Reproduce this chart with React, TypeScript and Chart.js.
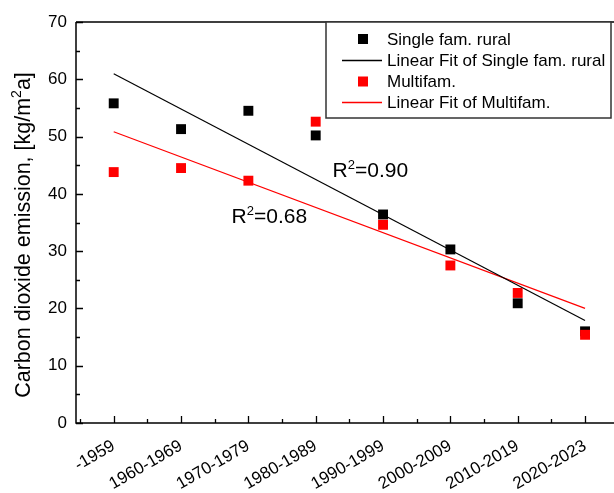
import React, { useEffect, useRef } from 'react';
import { Chart, registerables } from 'chart.js';

Chart.register(...registerables);

const categories = ['-1959', '1960-1969', '1970-1979', '1980-1989', '1990-1999', '2000-2009', '2010-2019', '2020-2023'];
const singleFamRural = [55.8, 51.3, 54.5, 50.2, 36.4, 30.3, 20.9, 16.0];
const multifam = [43.8, 44.5, 42.3, 52.6, 34.6, 27.5, 22.7, 15.4];
const seriesNames = ['Single fam. rural', 'Linear Fit of Single fam. rural', 'Multifam.', 'Linear Fit of Multifam.'];
const r2Values = ['0.90', '0.68'];
const r2Anchors = [{ x: 3.25, y: 43 }, { x: 1.75, y: 35 }];
const yTicks = [0, 10, 20, 30, 40, 50, 60, 70];
const yTitleParts = ['Carbon dioxide emission, [kg/m', '2', 'a]'];

const FONT = "'Liberation Sans', Arial, sans-serif";
const RED = '#ff0000';

function linearFit(ys: number[]) {
  const n = ys.length;
  const mx = (n - 1) / 2;
  const my = ys.reduce((a, b) => a + b, 0) / n;
  let sxy = 0, sxx = 0;
  ys.forEach((v, i) => { sxy += (i - mx) * (v - my); sxx += (i - mx) * (i - mx); });
  const slope = sxy / sxx;
  const b = my - slope * mx;
  return [{ x: 0, y: b }, { x: n - 1, y: b + slope * (n - 1) }];
}

function drawSup(ctx: any, parts: string[], x: number, y: number, size: number, supSize: number, supRise: number) {
  let cx = x;
  parts.forEach((p, i) => {
    const sup = i === 1;
    ctx.font = `${sup ? supSize : size}px ${FONT}`;
    ctx.fillText(p, cx, sup ? y - supRise : y);
    cx += ctx.measureText(p).width;
  });
  return cx - x;
}

function measureSup(ctx: any, parts: string[], size: number, supSize: number) {
  let w = 0;
  parts.forEach((p, i) => {
    ctx.font = `${i === 1 ? supSize : size}px ${FONT}`;
    w += ctx.measureText(p).width;
  });
  return w;
}

const framePlugin = {
  id: 'frame',
  afterDatasetsDraw(chart: any) {
    const { ctx, chartArea: ca, scales } = chart;
    const x = scales.x, y = scales.y;
    ctx.save();
    ctx.strokeStyle = '#000';
    ctx.lineWidth = 1.5;
    ctx.beginPath();
    ctx.moveTo(ca.left, ca.top); ctx.lineTo(ca.right, ca.top);
    ctx.moveTo(ca.left, ca.top); ctx.lineTo(ca.left, ca.bottom); ctx.lineTo(ca.right, ca.bottom);
    ctx.stroke();

    ctx.lineWidth = 1.3;
    ctx.beginPath();
    for (let i = 0; i < categories.length; i++) {
      const px = Math.round(x.getPixelForValue(i)) + 0.5;
      ctx.moveTo(px, ca.bottom); ctx.lineTo(px, ca.bottom - 7);
    }
    for (let v = -0.5; v <= x.max; v += 1) {
      if (v < x.min) continue;
      const px = Math.round(x.getPixelForValue(v)) + 0.5;
      ctx.moveTo(px, ca.bottom); ctx.lineTo(px, ca.bottom - 4);
    }
    yTicks.forEach((t) => {
      const py = Math.round(y.getPixelForValue(t)) + 0.5;
      ctx.moveTo(ca.left, py); ctx.lineTo(ca.left + 7, py);
      if (t + 5 < y.max) {
        const pm = Math.round(y.getPixelForValue(t + 5)) + 0.5;
        ctx.moveTo(ca.left, pm); ctx.lineTo(ca.left + 4, pm);
      }
    });
    ctx.stroke();

    // R² annotations
    ctx.fillStyle = '#000';
    ctx.textBaseline = 'alphabetic';
    ctx.textAlign = 'left';
    r2Values.forEach((val, i) => {
      const px = x.getPixelForValue(r2Anchors[i].x);
      const py = y.getPixelForValue(r2Anchors[i].y);
      drawSup(ctx, ['R', '2', '=' + val], px, py, 21, 13, 8);
    });

    // Y axis title
    ctx.save();
    ctx.translate(24, 235);
    ctx.rotate(-Math.PI / 2);
    ctx.textBaseline = 'middle';
    const tw = measureSup(ctx, yTitleParts, 21.5, 14);
    drawSup(ctx, yTitleParts, -tw / 2, 0, 21.5, 14, 7);
    ctx.restore();

    // Legend
    const lx = ca.right - 288;
    const ly = ca.top;
    const lw = 285;
    const lh = 96;
    ctx.fillStyle = '#fff';
    ctx.fillRect(lx, ly, lw, lh);
    ctx.strokeStyle = '#333';
    ctx.lineWidth = 1.5;
    ctx.strokeRect(lx, ly, lw, lh);
    const rows = [17, 38.5, 59.5, 80.5];
    const colors = ['#000', '#000', RED, RED];
    ctx.font = `17px ${FONT}`;
    ctx.textBaseline = 'middle';
    seriesNames.forEach((name, i) => {
      const ry = ly + rows[i];
      if (i % 2 === 0) {
        ctx.fillStyle = colors[i];
        ctx.fillRect(lx + 32, ry - 5, 10, 10);
      } else {
        ctx.strokeStyle = colors[i];
        ctx.lineWidth = 1.3;
        ctx.beginPath();
        ctx.moveTo(lx + 16, ry); ctx.lineTo(lx + 56, ry);
        ctx.stroke();
      }
      ctx.fillStyle = '#000';
      ctx.fillText(name, lx + 61, ry + 1);
    });
    ctx.restore();
  },
};

export default function App() {
  const ref = useRef<HTMLCanvasElement | null>(null);
  useEffect(() => {
    document.body.style.margin = '0';
    const canvas = ref.current;
    if (!canvas) return;
    const pts = (arr: number[]) => arr.map((v, i) => ({ x: i, y: v }));
    const chart = new Chart(canvas, {
      type: 'scatter',
      data: {
        datasets: [
          {
            label: seriesNames[2], data: pts(multifam), backgroundColor: RED, borderWidth: 0,
            pointStyle: 'rect', pointRadius: 7, order: 0,
          },
          {
            label: seriesNames[0], data: pts(singleFamRural), backgroundColor: '#000', borderWidth: 0,
            pointStyle: 'rect', pointRadius: 7, order: 1,
          },
          {
            label: seriesNames[1], data: linearFit(singleFamRural), showLine: true, borderColor: '#000',
            borderWidth: 1.2, pointRadius: 0, order: 2,
          } as any,
          {
            label: seriesNames[3], data: linearFit(multifam), showLine: true, borderColor: RED,
            borderWidth: 1.2, pointRadius: 0, order: 3,
          } as any,
        ],
      },
      plugins: [framePlugin],
      options: {
        animation: false,
        responsive: false,
        devicePixelRatio: 1,
        layout: { autoPadding: false, padding: { top: 22, right: 0, left: 0, bottom: 0 } },
        plugins: { legend: { display: false }, tooltip: { enabled: false } },
        scales: {
          x: {
            type: 'linear',
            min: -0.56,
            max: 7.43,
            grid: { display: false, drawTicks: false },
            border: { display: false },
            afterFit: (s: any) => { s.height = 70; s.paddingLeft = 0; s.paddingRight = 0; },
            afterBuildTicks: (s: any) => { s.ticks = categories.map((_, i) => ({ value: i })); },
            ticks: {
              autoSkip: false,
              maxRotation: 30,
              minRotation: 30,
              padding: 13,
              color: '#000',
              font: { family: FONT, size: 17 },
              callback: (v: any) => categories[Math.round(Number(v))] ?? '',
            },
          },
          y: {
            type: 'linear',
            min: 0,
            max: 70,
            grid: { display: false, drawTicks: false },
            border: { display: false },
            afterFit: (s: any) => { s.width = 76; s.paddingTop = 0; s.paddingBottom = 0; },
            afterBuildTicks: (s: any) => { s.ticks = yTicks.map((v) => ({ value: v })); },
            ticks: {
              padding: 9,
              color: '#000',
              font: { family: FONT, size: 17 },
            },
          },
        },
      },
    } as any);
    return () => chart.destroy();
  }, []);
  return (
    <div style={{ position: 'fixed', left: 0, top: 0, width: 614, height: 493, background: '#fff' }}>
      <canvas ref={ref} width={614} height={493} style={{ width: 614, height: 493, display: 'block' }} />
    </div>
  );
}
